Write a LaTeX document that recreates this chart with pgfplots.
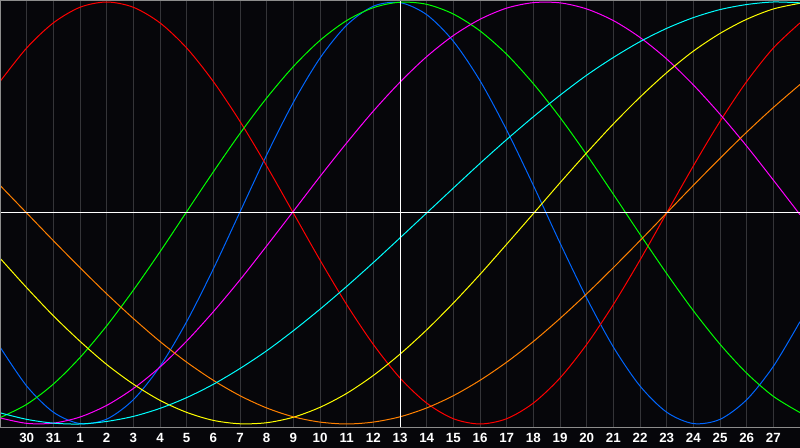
\documentclass[border=0pt]{standalone}
\usepackage{pgfplots}
\usepackage{pgfplotstable}
\pgfplotsset{compat=1.18}
\usepackage{fontspec}
\setmainfont{Liberation Sans}

\definecolor{bgc}{RGB}{6,6,10}
\definecolor{gridc}{RGB}{52,52,56}
\definecolor{bordc}{RGB}{140,140,140}
\definecolor{cred}{RGB}{255,0,0}
\definecolor{cgreen}{RGB}{0,255,0}
\definecolor{cblue}{RGB}{0,102,255}
\definecolor{cmag}{RGB}{255,0,255}
\definecolor{ccyan}{RGB}{0,255,255}
\definecolor{cyel}{RGB}{255,255,0}
\definecolor{corange}{RGB}{255,128,0}

% d = day slot (1 = the 30th, 15 = the 13th), one column per cycle
\pgfplotstableread{
d   r      g      b      m      c      yl     o
0   0.623 -0.970 -0.635 -0.971 -0.947 -0.214  0.131
1   0.782 -0.907 -0.820 -0.997 -0.978 -0.354  0.000
2   0.901 -0.811 -0.944 -0.996 -0.996 -0.487 -0.131
3   0.975 -0.685 -0.998 -0.967 -1.000 -0.608 -0.259
4   1.000 -0.535 -0.977 -0.912 -0.988 -0.718 -0.383
5   0.975 -0.366 -0.885 -0.832 -0.964 -0.811 -0.500
6   0.901 -0.184 -0.727 -0.730 -0.926 -0.888 -0.609
7   0.782  0.006 -0.515 -0.607 -0.875 -0.945 -0.707
8   0.623  0.195 -0.265 -0.468 -0.812 -0.983 -0.793
9   0.434  0.377  0.005 -0.317 -0.737 -0.999 -0.866
10  0.223  0.545  0.275 -0.156 -0.653 -0.994 -0.924
11  0.000  0.694  0.524  0.008 -0.558 -0.968 -0.966
12 -0.223  0.818  0.734  0.173 -0.456 -0.921 -0.991
13 -0.434  0.912  0.890  0.332 -0.348 -0.855 -1.000
14 -0.623  0.973  0.980  0.483 -0.235 -0.770 -0.991
15 -0.782  0.999  0.997  0.620 -0.118 -0.669 -0.966
16 -0.901  0.989  0.940  0.741  0.000 -0.554 -0.924
17 -0.975  0.943  0.814  0.841  0.118 -0.427 -0.866
18 -1.000  0.863  0.627  0.918  0.235 -0.291 -0.793
19 -0.975  0.752  0.393  0.971  0.348 -0.148 -0.707
20 -0.901  0.613  0.131  0.997  0.456 -0.003 -0.609
21 -0.782  0.453 -0.142  0.996  0.558  0.143 -0.500
22 -0.623  0.276 -0.403  0.967  0.653  0.285 -0.383
23 -0.434  0.089 -0.635  0.912  0.737  0.422 -0.259
24 -0.223 -0.101 -0.820  0.832  0.812  0.549 -0.131
25  0.000 -0.287 -0.944  0.730  0.875  0.665  0.000
26  0.223 -0.463 -0.998  0.607  0.926  0.767  0.131
27  0.434 -0.622 -0.978  0.468  0.964  0.851  0.259
28  0.623 -0.759 -0.885  0.317  0.988  0.918  0.383
29  0.782 -0.869 -0.727  0.156  1.000  0.967  0.500
30  0.901 -0.946 -0.515 -0.008  0.996  0.994  0.609
}\bio

\begin{document}
\begin{tikzpicture}
\useasboundingbox (0,-15pt) rectangle (600pt,321pt);
\fill[bgc] (0,-15pt) rectangle (600pt,321pt);
\begin{axis}[
    at={(0,0)}, anchor=south west,
    scale only axis,
    width=600pt, height=321pt,
    xmin=0, xmax=30,
    ymin=-1.019, ymax=1.0095,
    axis line style={draw=none},
    xtick={1,...,29},
    xticklabels={30,31,1,2,3,4,5,6,7,8,9,10,11,12,13,14,15,16,17,18,19,20,21,22,23,24,25,26,27},
    ytick=\empty,
    major tick length=0pt,
    tick style={draw=none},
    xmajorgrids=true,
    grid style={gridc, line width=0.75pt},
    xticklabel style={font=\fontsize{10}{10}\selectfont\bfseries, text=white, anchor=center, yshift=-7.5pt},
    every axis plot/.append style={line width=0.75pt, smooth},
]
\addplot[cblue]   table[x=d, y=b]  {\bio};
\addplot[cred]    table[x=d, y=r]  {\bio};
\addplot[cgreen]  table[x=d, y=g]  {\bio};
\addplot[cmag]    table[x=d, y=m]  {\bio};
\addplot[cyel]    table[x=d, y=yl] {\bio};
\addplot[corange] table[x=d, y=o]  {\bio};
\addplot[ccyan]   table[x=d, y=c]  {\bio};
% today marker and zero line
\draw[white, line width=0.75pt] (axis cs:15,-2) -- (axis cs:15,2);
\draw[white, line width=0.75pt] (axis cs:0,0) -- (axis cs:30,0);
\end{axis}
\draw[bordc, line width=1.5pt] (0,0) -- (0,321pt) -- (600pt,321pt);
\draw[bordc, line width=0.75pt] (0,0) -- (600pt,0);
\end{tikzpicture}
\end{document}
